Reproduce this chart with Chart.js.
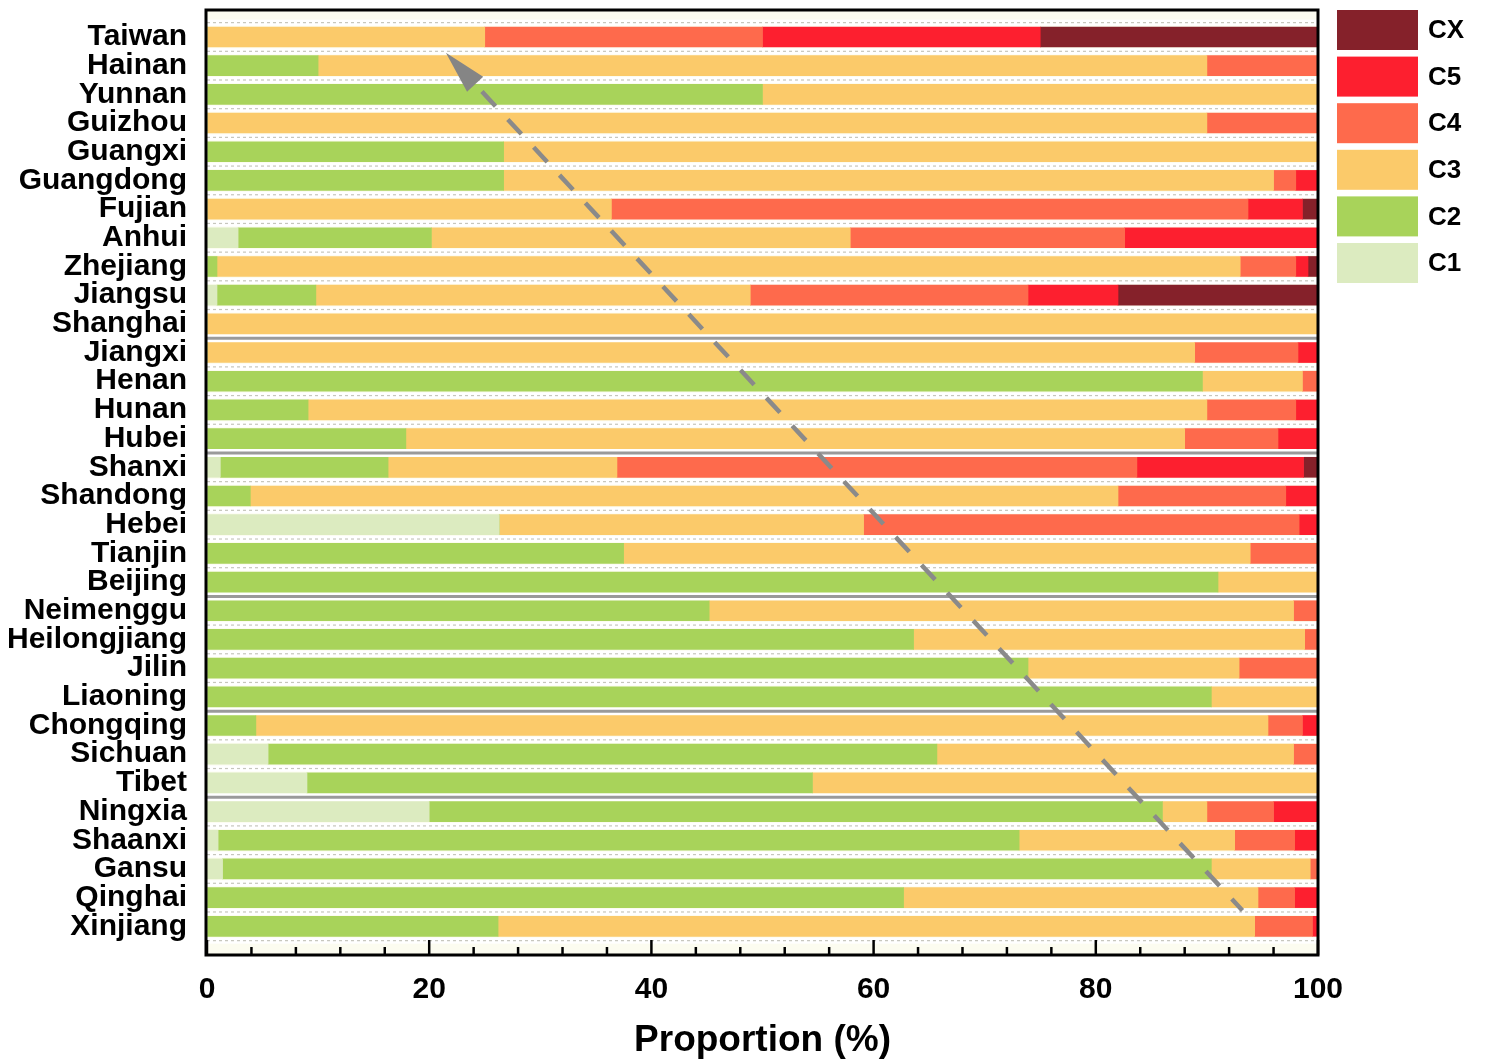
<!DOCTYPE html>
<html><head><meta charset="utf-8">
<script src="https://cdn.jsdelivr.net/npm/chart.js@4.4.0/dist/chart.umd.min.js"></script>
<style>html,body{margin:0;padding:0;background:#fff;}</style>
</head><body>
<canvas id="c" width="1485" height="1063"></canvas>
<script>
const provinces = ['Taiwan','Hainan','Yunnan','Guizhou','Guangxi','Guangdong','Fujian','Anhui','Zhejiang','Jiangsu','Shanghai','Jiangxi','Henan','Hunan','Hubei','Shanxi','Shandong','Hebei','Tianjin','Beijing','Neimenggu','Heilongjiang','Jilin','Liaoning','Chongqing','Sichuan','Tibet','Ningxia','Shaanxi','Gansu','Qinghai','Xinjiang'];
const seriesNames = ['C1','C2','C3','C4','C5','CX'];
const seriesColors = ['#dcebc0','#a8d35a','#fbca6a','#fe6a4c','#fd1f2f','#85212a'];
const C1 = [0,0,0,0,0,0,0,2.8,0,0.9,0,0,0,0,0,1.2,0,26.3,0,0,0,0,0,0,0,5.5,9,20,1,1.4,0,0];
const C2 = [0,10,50,0,26.7,26.7,0,17.4,0.9,8.9,0,0,89.6,9.1,17.9,15.1,3.9,0,37.5,91,45.2,63.6,73.9,90.4,4.4,60.2,45.5,66,72.1,89,62.7,26.2];
const C3 = [25,80,50,90,73.3,69.3,36.4,37.7,92.1,39.1,100,88.9,9,80.9,70.1,20.6,78.1,32.8,56.4,9,52.6,35.2,19,9.6,91.1,32.1,45.5,4,19.4,8.9,31.9,68.1];
const C4 = [25,10,0,10,0,2,57.3,24.7,5,25,0,9.3,1.4,8,8.4,46.8,15.1,39.2,6.1,0,2.2,1.2,7.1,0,3.1,2.2,0,6,5.4,0.7,3.3,5.2];
const C5 = [25,0,0,0,0,2,4.9,17.4,1.1,8.1,0,1.8,0,2,3.6,15,2.9,1.7,0,0,0,0,0,0,1.4,0,0,4,2.1,0,2.1,0.5];
const CX = [25,0,0,0,0,0,1.4,0,0.9,18,0,0,0,0,0,1.3,0,0,0,0,0,0,0,0,0,0,0,0,0,0,0,0];
const xTickStep = 20;
const xMinorStep = 4;
const groupBreaks = [10.5,14.5,19.5,23.5,26.5];
const trendArrowFrom = [93.2, 30.45];
const trendArrowTo = [21.5, 0.55];

const seriesValues = [C1,C2,C3,C4,C5,CX];
const FONT = "'Liberation Sans', Arial, sans-serif";

const datasets = seriesNames.map((name, k) => ({
  label: name,
  data: seriesValues[k].map((v, i) => ({x: v, y: i})),
  backgroundColor: seriesColors[k],
  borderWidth: 0,
  barThickness: 20
}));

const decor = {
  id: 'decor',
  beforeDatasetsDraw(chart) {
    const {ctx, chartArea: a, scales: {y}} = chart;
    ctx.save();
    ctx.fillStyle = '#fcfcf0';
    ctx.fillRect(a.left, a.top, a.right - a.left, a.bottom - a.top);
    for (let i = -1; i < provinces.length; i++) {
      const v = i + 0.5;
      const py = y.getPixelForValue(v);
      if (groupBreaks.includes(v)) {
        ctx.fillStyle = '#ffffff';
        ctx.fillRect(a.left, py - 4, a.right - a.left, 8);
        ctx.strokeStyle = '#9a9a9a';
        ctx.lineWidth = 3;
        ctx.setLineDash([]);
      } else {
        ctx.fillStyle = '#ffffff';
        ctx.fillRect(a.left, py - 3, a.right - a.left, 6);
        ctx.strokeStyle = '#c6c6bc';
        ctx.lineWidth = 1.2;
        ctx.setLineDash([3, 3]);
      }
      ctx.beginPath();
      ctx.moveTo(a.left, py);
      ctx.lineTo(a.right, py);
      ctx.stroke();
    }
    ctx.restore();
  },
  afterDatasetsDraw(chart) {
    const {ctx, chartArea: a, scales: {x, y}} = chart;
    ctx.save();
    // trend arrow
    const tx = x.getPixelForValue(trendArrowTo[0]), ty = y.getPixelForValue(trendArrowTo[1]);
    const fx = x.getPixelForValue(trendArrowFrom[0]), fy = y.getPixelForValue(trendArrowFrom[1]);
    const ang = Math.atan2(fy - ty, fx - tx);
    const headLen = 43, headHalf = 11;
    const bx = tx + Math.cos(ang) * headLen, by = ty + Math.sin(ang) * headLen;
    ctx.strokeStyle = '#8a8a8a';
    ctx.lineWidth = 4.5;
    ctx.setLineDash([20, 18]);
    ctx.lineDashOffset = 28;
    ctx.beginPath();
    ctx.moveTo(bx, by);
    ctx.lineTo(fx, fy);
    ctx.stroke();
    ctx.setLineDash([]);
    ctx.fillStyle = '#858585';
    ctx.beginPath();
    ctx.moveTo(tx, ty);
    ctx.lineTo(bx - Math.sin(ang) * headHalf, by + Math.cos(ang) * headHalf);
    ctx.lineTo(bx + Math.sin(ang) * headHalf, by - Math.cos(ang) * headHalf);
    ctx.closePath();
    ctx.fill();
    // frame
    ctx.strokeStyle = '#000';
    ctx.lineWidth = 3;
    ctx.strokeRect(a.left - 1, a.top, a.right - a.left + 1, a.bottom - a.top);
    // inner ticks
    ctx.lineWidth = 2.5;
    for (let v = x.min; v <= x.max; v += xMinorStep) {
      const px = x.getPixelForValue(v);
      const len = (v % xTickStep === 0) ? 15 : 8;
      ctx.beginPath();
      ctx.moveTo(px, a.bottom);
      ctx.lineTo(px, a.bottom - len);
      ctx.stroke();
    }
    // legend (reverse order: CX on top)
    const boxL = a.right + 19, boxW = 81, boxH = 40, pitch = 46.6;
    ctx.font = 'bold 26px ' + FONT;
    ctx.textBaseline = 'middle';
    ctx.textAlign = 'left';
    for (let k = seriesNames.length - 1, r = 0; k >= 0; k--, r++) {
      const top = a.top + r * pitch;
      ctx.fillStyle = seriesColors[k];
      ctx.fillRect(boxL, top, boxW, boxH);
      ctx.fillStyle = '#000';
      ctx.fillText(seriesNames[k], boxL + boxW + 10, top + boxH / 2 + 1);
    }
    ctx.restore();
  }
};

new Chart(document.getElementById('c'), {
  type: 'bar',
  data: {datasets},
  options: {
    indexAxis: 'y',
    responsive: false,
    animation: false,
    devicePixelRatio: 1,
    layout: {padding: {top: 10, right: 167, left: 0, bottom: 0}},
    plugins: {legend: {display: false}, tooltip: {enabled: false}},
    scales: {
      x: {
        type: 'linear', min: 0, max: 100, stacked: true, position: 'bottom', offset: false,
        grid: {display: false, drawTicks: false},
        border: {display: false},
        ticks: {stepSize: xTickStep, color: '#000', padding: 17, font: {family: FONT, size: 30, weight: 'bold', lineHeight: 1.2}},
        title: {display: true, text: 'Proportion (%)', color: '#000', padding: {top: 0, bottom: 0}, font: {family: FONT, size: 37, weight: 'bold', lineHeight: 1.2}},
        afterFit(s) { s.height = 108; s.paddingLeft = 0; s.paddingRight = 0; }
      },
      y: {
        type: 'linear', min: -0.94, max: 32.0, reverse: true, stacked: true, offset: false,
        grid: {display: false, drawTicks: false, offset: false},
        border: {display: false},
        ticks: {stepSize: 1, autoSkip: false, includeBounds: false, color: '#000', padding: 20,
          font: {family: FONT, size: 30, weight: 'bold', lineHeight: 1},
          callback: (v) => (Number.isInteger(v) && provinces[v]) ? provinces[v] : ''},
        afterFit(s) { s.width = 207; s.paddingTop = 0; s.paddingBottom = 0; }
      }
    }
  },
  plugins: [decor]
});
</script>
</body></html>
